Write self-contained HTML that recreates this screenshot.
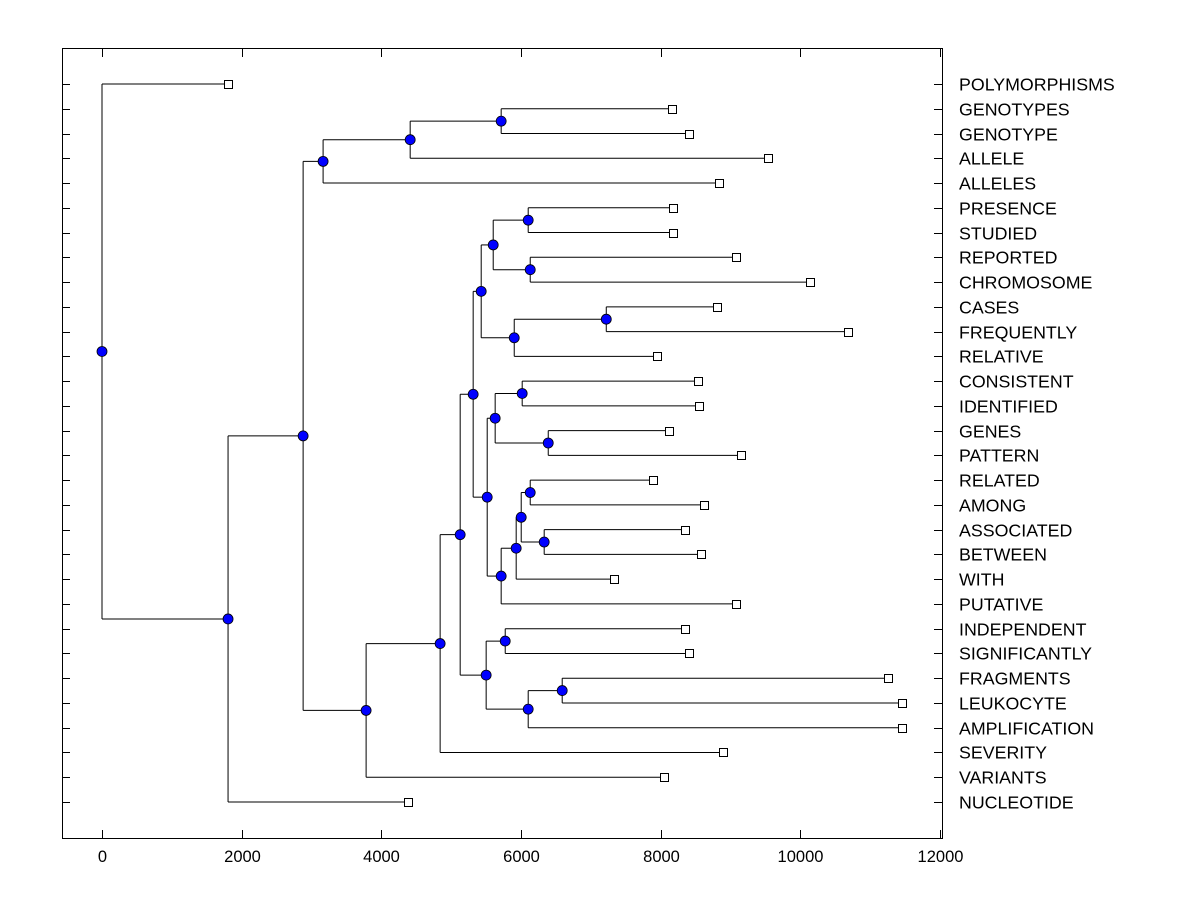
<!DOCTYPE html>
<html><head><meta charset="utf-8"><style>
body{margin:0;background:#fff}
svg{display:block;font-family:"Liberation Sans",Arial,sans-serif}
</style></head><body>
<svg id="chart" width="1200" height="900" xmlns="http://www.w3.org/2000/svg">
<rect x="62.5" y="48.5" width="880" height="790" fill="none" stroke="#000"/>
<g id="g"></g>
</svg>
<script>
const labels=["POLYMORPHISMS","GENOTYPES","GENOTYPE","ALLELE","ALLELES","PRESENCE","STUDIED","REPORTED","CHROMOSOME","CASES","FREQUENTLY","RELATIVE","CONSISTENT","IDENTIFIED","GENES","PATTERN","RELATED","AMONG","ASSOCIATED","BETWEEN","WITH","PUTATIVE","INDEPENDENT","SIGNIFICANTLY","FRAGMENTS","LEUKOCYTE","AMPLIFICATION","SEVERITY","VARIANTS","NUCLEOTIDE"];
const leafValues=[1805,8166,8410,9542,8840,8180,8180,9083,10143,8811,10688,7951,8539,8553,8123,9155,7894,8625,8352,8582,7335,9083,8352,8410,11261,11461,11461,8897,8052,4384];
// node: [value, childA, childB]; leaves are indices
const tree=[0,0,[1805,[2880,[3166,[4413,[5716,1,2],3],4],[3782,[4842,[5129,[5315,[5430,[5602,[6103,5,6],[6132,7,8]],[5903,[7221,9,10],11]],[5516,[5630,[6017,12,13],[6390,14,15]],[5716,[5931,[6003,[6132,16,17],[6332,18,19]],20],21]]],[5501,[5774,22,23],[6103,[6590,24,25],26]]],27],28]],29]];
const xTicks=[0,2000,4000,6000,8000,10000,12000];
const NS="http://www.w3.org/2000/svg";
const g=document.getElementById('g');
const X=v=>102+v*(940-102)/12000;
const Y=i=>84+i*(802-84)/29;
function el(t,a){const e=document.createElementNS(NS,t);for(const k in a)e.setAttribute(k,a[k]);g.appendChild(e);return e;}
xTicks.forEach(t=>{const x=Math.round(X(t))+0.5;
 let l=el('line',{x1:x,x2:x,y1:838,y2:830,stroke:'#000'});
 
 
 l=el('line',{x1:x,x2:x,y1:49,y2:57,stroke:'#000'});
 
 
 const tx=el('text',{x:x,y:862,'text-anchor':'middle','font-size':16.5});tx.textContent=t;
 
 
});
labels.forEach((s,i)=>{const y=Math.round(Y(i))+0.5;
 let l=el('line',{x1:62,x2:70,y1:y,y2:y,stroke:'#000'});
 
 
 l=el('line',{x1:934,x2:942,y1:y,y2:y,stroke:'#000'});
 
 
 const tx=el('text',{x:959,y:y+6,'font-size':17.8});tx.textContent=s;
 
 
});
const nodes=[],leaves=[];
function walk(n,px){
 if(typeof n==='number'){const x=X(leafValues[n]),y=Y(n);
  const l=el('line',{x1:px,x2:x,y1:y,y2:y,stroke:'#000'});
  
  
  leaves.push([x,y]);return y;}
 const x=X(n[0]);
 const ya=walk(n[1],x),yb=walk(n[2],x);
 const y=(ya+yb)/2;
 const v=el('line',{x1:x,x2:x,y1:ya,y2:yb,stroke:'#000'});
 
 
 if(px!==null){const h=el('line',{x1:px,x2:x,y1:y,y2:y,stroke:'#000'});
  
  }
 nodes.push([x,y]);return y;
}
walk(tree,null);
nodes.forEach(([x,y])=>{const c=el('circle',{cx:x,cy:y,r:5,fill:'#0000ff',stroke:'#000','stroke-width':0.8});
 
 });
leaves.forEach(([x,y])=>{const r=el('rect',{x:Math.round(x)-3.5,y:Math.round(y)-3.5,width:8,height:8,fill:'#fff',stroke:'#000'});
 
 });
</script>
</body></html>
